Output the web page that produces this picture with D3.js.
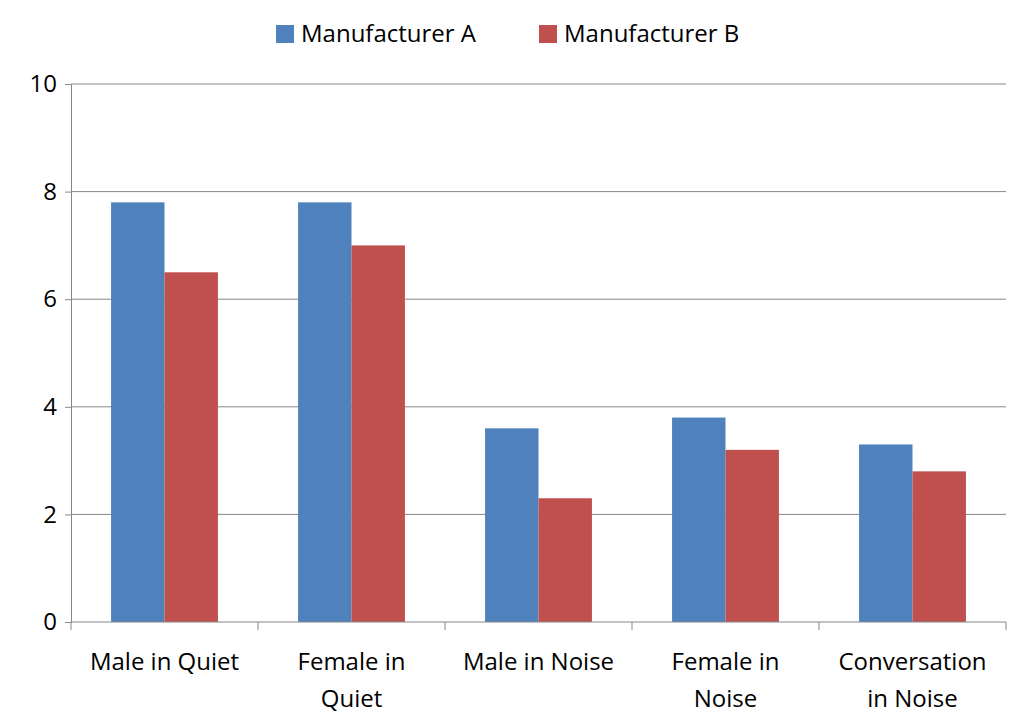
<!DOCTYPE html>
<html><head><meta charset="utf-8">
<script src="https://cdn.jsdelivr.net/npm/d3@7"></script>
<style>body{margin:0;background:#fff}text{font-family:"Open Sans","Noto Sans",sans-serif;fill:#000}</style>
</head><body>
<svg id="c" width="1024" height="727"></svg>
<script>
const categories = [["Male in Quiet"],["Female in","Quiet"],["Male in Noise"],["Female in","Noise"],["Conversation","in Noise"]];
const seriesNames = ["Manufacturer A","Manufacturer B"];
const seriesA = [7.8,7.8,3.6,3.8,3.3];
const seriesB = [6.5,7.0,2.3,3.2,2.8];
const yTicks = [0,2,4,6,8,10];
const colors = ["#4F81BD","#C0504D"];

const svg = d3.select("#c");
const L=71,R=1006,T=84,B=622;
const x0 = d3.scaleBand().domain(d3.range(5)).range([L,R]);
const x1 = d3.scaleBand().domain([0,1]).range([0,x0.bandwidth()]).paddingOuter(0.75);
const y = d3.scaleLinear().domain([0,10]).range([B,T]);

svg.append("g").selectAll("line").data(yTicks.slice(1)).join("line")
  .attr("x1",L).attr("x2",R).attr("y1",d=>y(d)).attr("y2",d=>y(d)).attr("stroke","#878787");

const vals=[seriesA,seriesB];
vals.forEach((s,si)=>{
  svg.append("g").selectAll("rect").data(s).join("rect")
    .attr("x",(d,i)=>x0(i)+x1(si)).attr("width",x1.bandwidth())
    .attr("y",d=>y(d)).attr("height",d=>B-y(d)).attr("fill",colors[si]);
});

const ya = svg.append("g").attr("transform",`translate(${L},0)`)
  .call(d3.axisLeft(y).tickValues(yTicks).tickSize(6).tickPadding(8));
ya.select(".domain").attr("stroke","#878787");
ya.selectAll("line").attr("stroke","#878787");
ya.selectAll("text").style("font-size","24px").attr("fill","#000");

svg.append("line").attr("x1",L).attr("x2",R).attr("y1",B).attr("y2",B).attr("stroke","#878787");
svg.append("g").selectAll("line").data(d3.range(6)).join("line")
  .attr("x1",i=>L+i*x0.step()).attr("x2",i=>L+i*x0.step()).attr("y1",B).attr("y2",B+8).attr("stroke","#878787");

svg.append("g").selectAll("text").data(categories).join("text")
  .attr("x",(d,i)=>x0(i)+x0.bandwidth()/2).attr("y",670)
  .attr("text-anchor","middle").style("font-size","24px")
  .selectAll("tspan").data(d=>d).join("tspan")
  .attr("x",function(){return this.parentNode.getAttribute("x");})
  .attr("dy",(d,i)=>i?37:0).text(d=>d);

const lg = svg.append("g");
const lx=[276,539];
seriesNames.forEach((n,i)=>{
  lg.append("rect").attr("x",lx[i]).attr("y",25).attr("width",18).attr("height",18).attr("fill",colors[i]);
  lg.append("text").attr("x",lx[i]+25).attr("y",42).style("font-size","24px").text(n);
});
</script>
</body></html>
